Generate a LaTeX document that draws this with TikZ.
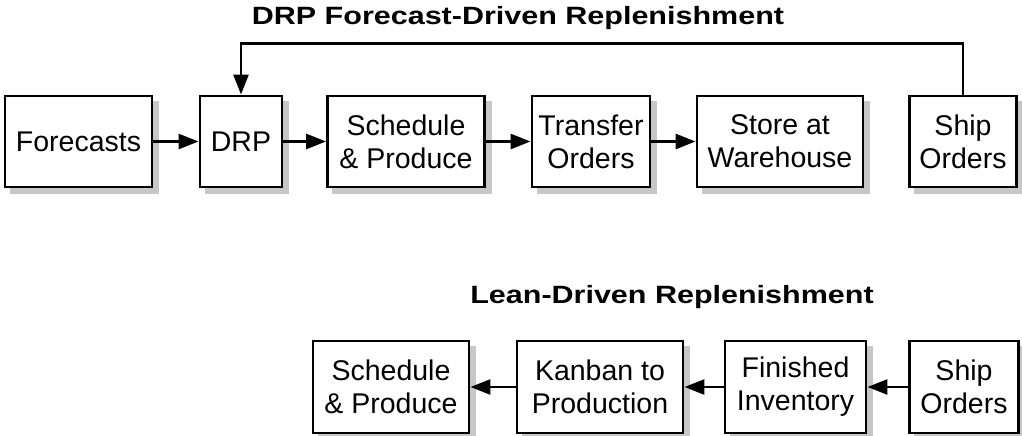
\documentclass[tikz,border=0pt]{standalone}
\usepackage{fontspec}
\setmainfont{Liberation Sans}
\usetikzlibrary{arrows.meta,backgrounds}

\definecolor{shadowgray}{gray}{0.78}

\begin{document}
\begin{tikzpicture}[x=1pt,y=-1pt,
  box/.style={draw=black, line width=2.9pt, fill=white, align=center,
    inner sep=0pt, font=\fontsize{28.5}{33}\selectfont},
  toprow/.style={box, minimum height=91pt},
  botrow/.style={box, minimum height=92pt},
  title/.style={font=\bfseries\fontsize{25}{30}\selectfont, inner sep=0pt},
  arr/.style={line width=2.6pt, -{Triangle[length=20pt,width=15pt]}}]

\useasboundingbox (0,0) rectangle (1022,436);

% titles
\node[title] (t1) at (518,18) {\scalebox{1.22}[1]{DRP Forecast-Driven Replenishment}};
\node[title] (t2) at (672,297) {\scalebox{1.22}[1]{Lean-Driven Replenishment}};

% forecast-driven chain
\node[toprow, minimum width=147pt] (fc)  at (78.5,141.5) {Forecasts};
\node[toprow, minimum width=82pt]  (drp) at (241,141.5)  {DRP};
\node[toprow, minimum width=157pt] (sp)  at (406,141.5)  {Schedule\\\& Produce};
\node[toprow, minimum width=118pt] (to)  at (591,141.5)  {Transfer\\Orders};
\node[toprow, minimum width=166pt] (sw)  at (780,141.5)  {Store at\\Warehouse};
\node[toprow, minimum width=107pt] (so)  at (963,141.5)  {Ship\\Orders};

\draw[arr] (fc) -- (drp);
\draw[arr] (drp) -- (sp);
\draw[arr] (sp) -- (to);
\draw[arr] (to) -- (sw);
\draw[arr] (so.north) -- ++(0,-51) -| (drp.north);

% lean-driven chain
\node[botrow, minimum width=156pt] (sp2) at (391,387)   {Schedule\\\& Produce};
\node[botrow, minimum width=166pt] (kp)  at (600,387)   {Kanban to\\Production};
\node[botrow, minimum width=141pt] (fi)  at (795.5,387) {Finished\\Inventory};
\node[botrow, minimum width=109pt] (so2) at (964,387)   {Ship\\Orders};

\draw[arr] (so2) -- (fi);
\draw[arr] (fi) -- (kp);
\draw[arr] (kp) -- (sp2);

% grey offset shadows behind every box
\begin{scope}[on background layer]
  \foreach \n in {fc,drp,sp,to,sw,so,sp2,kp,fi,so2}
    \fill[shadowgray] ([shift={(6,6)}]\n.south west) rectangle ([shift={(6,6)}]\n.north east);
\end{scope}

\end{tikzpicture}
\end{document}
